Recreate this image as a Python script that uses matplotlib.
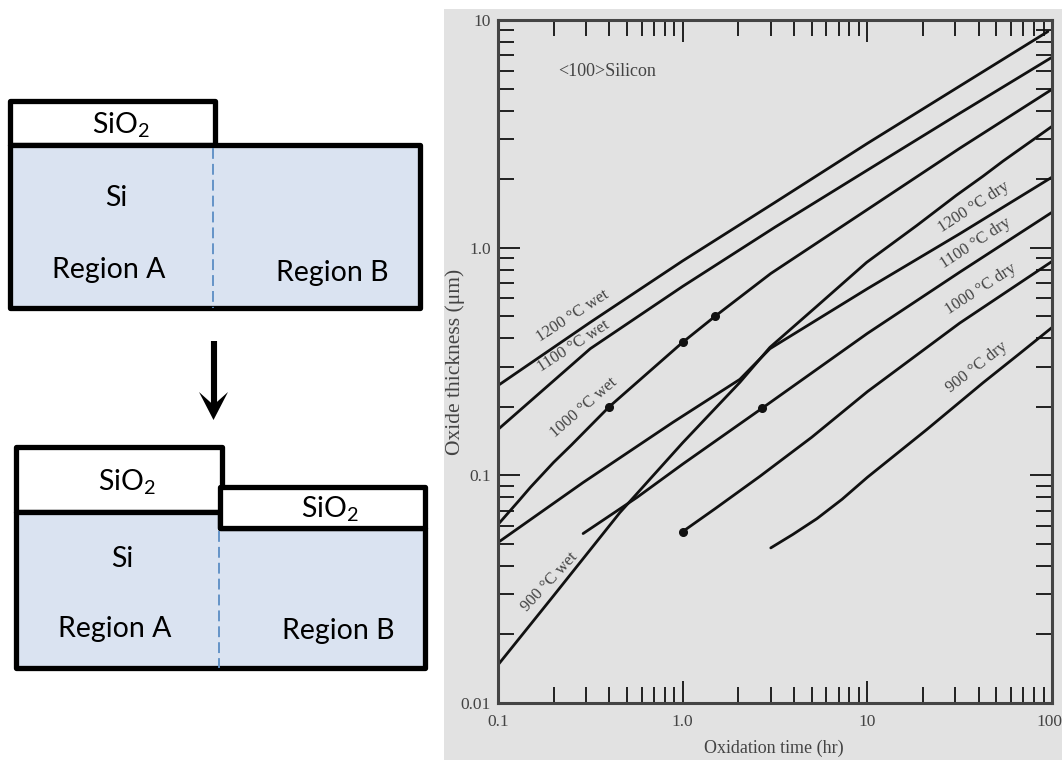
import matplotlib
matplotlib.use('Agg')
import matplotlib.pyplot as plt
from matplotlib.patches import Rectangle, Polygon
from matplotlib.ticker import LogLocator, NullFormatter, FixedLocator, FixedFormatter
from matplotlib.transforms import ScaledTranslation

W, H = 1062, 760

# curves: time (hr), thickness (um)
wet_1200_x = [0.1, 0.316, 1.0, 3.16, 10, 31.6, 95]
wet_1200_y = [0.248, 0.47, 0.875, 1.58, 2.87, 5.12, 8.9]
wet_1100_x = [0.1, 0.316, 1.0, 3.16, 10, 31.6, 100]
wet_1100_y = [0.159, 0.36, 0.676, 1.23, 2.19, 3.89, 6.86]
wet_1000_x = [0.1, 0.13, 0.15, 0.2, 0.25, 0.4, 1.0, 1.5, 3, 10, 31.6, 100]
wet_1000_y = [0.0608, 0.0775, 0.0887, 0.114, 0.136, 0.2, 0.384, 0.5, 0.77, 1.47, 2.73, 4.96]
wet_900_x = [0.1, 0.2, 0.457, 1.0, 2.04, 2.97, 5.33, 9.9, 18.5, 30.4, 42.3, 54.3, 100]
wet_900_y = [0.0147, 0.0296, 0.0686, 0.139, 0.256, 0.365, 0.553, 0.861, 1.25, 1.70, 2.06, 2.4, 3.41]
dry_1200_x = [0.1, 0.289, 0.886, 2.04, 2.97, 10, 31.6, 100]
dry_1200_y = [0.0507, 0.093, 0.171, 0.264, 0.36, 0.66, 1.15, 2.04]
dry_1100_x = [0.289, 0.566, 1.0, 2.69, 10, 31.6, 100]
dry_1100_y = [0.0555, 0.08, 0.112, 0.197, 0.42, 0.78, 1.43]
dry_1000_x = [1.0, 1.5, 2.62, 5, 10, 31.6, 100]
dry_1000_y = [0.0566, 0.0714, 0.099, 0.147, 0.233, 0.466, 0.87]
dry_900_x = [3, 3.95, 5.33, 7.3, 10, 21, 42.3, 66, 100]
dry_900_y = [0.048, 0.055, 0.0645, 0.0785, 0.098, 0.159, 0.255, 0.34, 0.446]
dots_x = [0.4, 1.0, 1.5, 2.69, 1.0]
dots_y = [0.2, 0.384, 0.5, 0.197, 0.0566]

x_ticks = [0.1, 1.0, 10, 100]
x_labels = ['0.1', '1.0', '10', '100']
y_ticks = [0.01, 0.1, 1.0, 10]
y_labels = ['0.01', '0.1', '1.0', '10']

plt.rcParams['mathtext.default'] = 'regular'
ink = '#111111'
grey = '#444444'
fig = plt.figure(figsize=(W / 100, H / 100), dpi=100)

# pixel overlay for the diagram and the slanted labels
bg = fig.add_axes([0, 0, 1, 1])
bg.set_xlim(0, W)
bg.set_ylim(H, 0)
bg.axis('off')
bg.add_patch(Rectangle((444, 9), W - 444, H - 9, fc='#E2E2E2', ec='none'))

ax = fig.add_axes([498 / W, 1 - 703 / H, (1052 - 498) / W, (703 - 20) / H])
ax.patch.set_alpha(0)
ax.set_xscale('log')
ax.set_yscale('log')
ax.set_xlim(0.1, 100)
ax.set_ylim(0.01, 10)
curves = [(wet_1200_x, wet_1200_y), (wet_1100_x, wet_1100_y), (wet_1000_x, wet_1000_y),
          (wet_900_x, wet_900_y), (dry_1200_x, dry_1200_y), (dry_1100_x, dry_1100_y),
          (dry_1000_x, dry_1000_y), (dry_900_x, dry_900_y)]
for cx, cy in curves:
    ax.plot(cx, cy, color=ink, lw=2.0, solid_capstyle='round', solid_joinstyle='round')
ax.plot(dots_x, dots_y, 'o', color=ink, ms=5.5, ls='none')

for axis, ticks, labels in [(ax.xaxis, x_ticks, x_labels), (ax.yaxis, y_ticks, y_labels)]:
    axis.set_major_locator(FixedLocator(ticks))
    axis.set_major_formatter(FixedFormatter(labels))
    axis.set_minor_locator(LogLocator(base=10, subs=range(2, 10), numticks=12))
    axis.set_minor_formatter(NullFormatter())
ax.tick_params(which='major', direction='in', length=16, width=1.3, top=True, right=True,
               color=ink, labelcolor=grey, labelsize=12.5)
ax.tick_params(axis='x', which='major', pad=8)
ax.tick_params(axis='y', which='major', pad=5)
ax.tick_params(which='minor', direction='in', length=11.5, width=1.3, top=True, right=True, color=ink)
for lab in ax.get_xticklabels() + ax.get_yticklabels():
    lab.set_family('Liberation Serif')
# the last label sits at the picture's edge
last = ax.get_xticklabels()[-1]
last.set_transform(last.get_transform() + ScaledTranslation(-3 / 100, 0, fig.dpi_scale_trans))
for s in ax.spines.values():
    s.set_linewidth(2.2)
    s.set_color(grey)

# diagram
fill = '#DAE3F1'
dash = '#5B8DC4'


def box(x0, y0, x1, y1, fc):
    bg.add_patch(Rectangle((x0, y0), x1 - x0, y1 - y0, fc=fc, ec='black', lw=3.8, joinstyle='round'))


box(10, 101, 215, 145, 'white')
box(10, 145, 420, 308, fill)
bg.plot([213, 213], [148, 308], color=dash, lw=1.3, dashes=(6, 2.8))

box(16, 447, 222, 512, 'white')
bg.add_patch(Polygon([(16, 512), (220, 512), (220, 528), (425, 528), (425, 668), (16, 668)],
                     fc=fill, ec='black', lw=3.8, joinstyle='round'))
box(220, 487, 425, 528, 'white')
bg.plot([219, 219], [531, 668], color=dash, lw=1.3, dashes=(6, 2.8))

bg.plot([213.5, 213.5], [341, 405], color='black', lw=4.4, solid_capstyle='butt')
bg.add_patch(Polygon([(213.5, 420), (199, 392), (213.5, 405), (228, 392)], fc='black', ec='none'))

sans = dict(family='Lato', fontsize=20.5, color='black', ha='center', va='center')
bg.text(121, 125, 'SiO$_2$', **sans)
bg.text(116, 198, 'Si', **sans)
bg.text(109, 270, 'Region A', **sans)
bg.text(332, 273, 'Region B', **sans)
bg.text(127, 482, 'SiO$_2$', **sans)
bg.text(122, 559, 'Si', **sans)
bg.text(115, 629, 'Region A', **sans)
bg.text(338, 631, 'Region B', **sans)
bg.text(330, 509, 'SiO$_2$', **sans)

# chart text, on top of the log axes
top = fig.add_axes([0, 0, 1, 1])
top.set_xlim(0, W)
top.set_ylim(H, 0)
top.axis('off')
serif = dict(family='Liberation Serif', color=grey, ha='center', va='center', rotation_mode='anchor')
top.text(607, 72, '<100>Silicon', fontsize=13, **serif)
top.text(774, 748, 'Oxidation time (hr)', fontsize=13, **serif)
top.text(455, 362, 'Oxide thickness (μm)', fontsize=15.5, rotation=90, **serif)
top.text(573, 316, '1200 °C wet', fontsize=12, rotation=33, **serif)
top.text(573, 346, '1100 °C wet', fontsize=12, rotation=33, **serif)
top.text(584, 408, '1000 °C wet', fontsize=12, rotation=41, **serif)
top.text(550, 582, '900 °C wet', fontsize=12, rotation=47, **serif)
top.text(974, 207, '1200 °C dry', fontsize=12, rotation=33, **serif)
top.text(976, 243, '1100 °C dry', fontsize=12, rotation=33, **serif)
top.text(981, 289, '1000 °C dry', fontsize=12, rotation=33, **serif)
top.text(977, 367, '900 °C dry', fontsize=12, rotation=38, **serif)

fig.savefig('out.png', dpi=100)
